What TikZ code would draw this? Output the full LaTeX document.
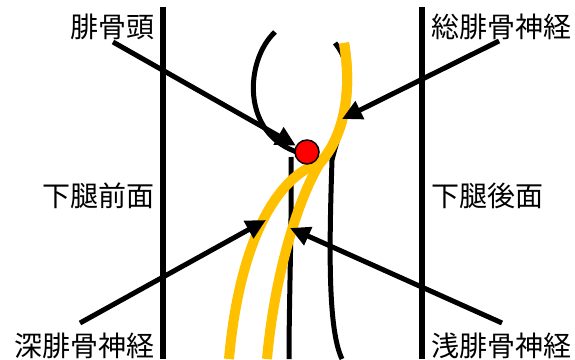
\documentclass[tikz,border=0pt]{standalone}
\usepackage{fontspec}
\setmainfont{Noto Sans CJK JP}
\usetikzlibrary{arrows.meta}
\definecolor{nervegold}{HTML}{FFC000}

\begin{document}
\begin{tikzpicture}[x=1pt, y=-1pt,
    bone/.style={line width=5pt},
    nerve/.style={line width=10pt, nervegold},
    pointer/.style={line width=5pt, -{Triangle[length=20pt, width=19pt]}},
    lbl/.style={font=\fontsize{28}{34}\selectfont, inner sep=0pt}]
    \useasboundingbox (0,0) rectangle (575,359);

    % Front and back planes of the lower leg
    \draw[line width=6.5pt] (163,7) -- (163,359);
    \draw[line width=6.5pt] (422,7) -- (422,359);

    % Fibula: head loop and the two shaft edges
    \draw[bone] (275,32) .. controls (245,60) and (240,135) .. (300,153);
    \draw[bone] (291,157) .. controls (292,220) and (289,300) .. (289,359);
    \draw[bone] (335,43) .. controls (345,55) and (349,70) .. (348,85)
        .. controls (347,115) and (338,135) .. (332,160)
        .. controls (329,250) and (328,330) .. (342,359);

    % Nerves
    \draw[nerve] (344,43) .. controls (352,90) and (345,135) .. (320,163)
        .. controls (280,175) and (240,235) .. (229,359);
    \draw[nerve] (344,43) .. controls (352,90) and (345,135) .. (320,163)
        .. controls (300,195) and (275,270) .. (267,359);

    \node[circle, draw, fill=red, line width=1.5pt, minimum size=24pt, inner sep=0pt] (head) at (307,152) {};

    % Labels
    \node[lbl, anchor=base east] (headlbl) at (155,37) {腓骨頭};
    \node[lbl, anchor=base west] (commonlbl) at (431,37) {総腓骨神経};
    \node[lbl, anchor=base east] (frontlbl) at (155,206) {下腿前面};
    \node[lbl, anchor=base west] (backlbl) at (431,206) {下腿後面};
    \node[lbl, anchor=base east] (deeplbl) at (155,356) {深腓骨神経};
    \node[lbl, anchor=base west] (superlbl) at (431,356) {浅腓骨神経};

    % Pointers
    \coordinate (headfrom) at (113,42);
    \coordinate (commonfrom) at (499,41);
    \coordinate (commonto) at (342,119);
    \coordinate (deepfrom) at (80,323);
    \coordinate (deepto) at (266,220);
    \coordinate (superfrom) at (502,323);
    \coordinate (superto) at (290,228);
    \draw[pointer] (headfrom) -- (head);
    \draw[pointer] (commonfrom) -- (commonto);
    \draw[pointer] (deepfrom) -- (deepto);
    \draw[pointer] (superfrom) -- (superto);
\end{tikzpicture}
\end{document}
